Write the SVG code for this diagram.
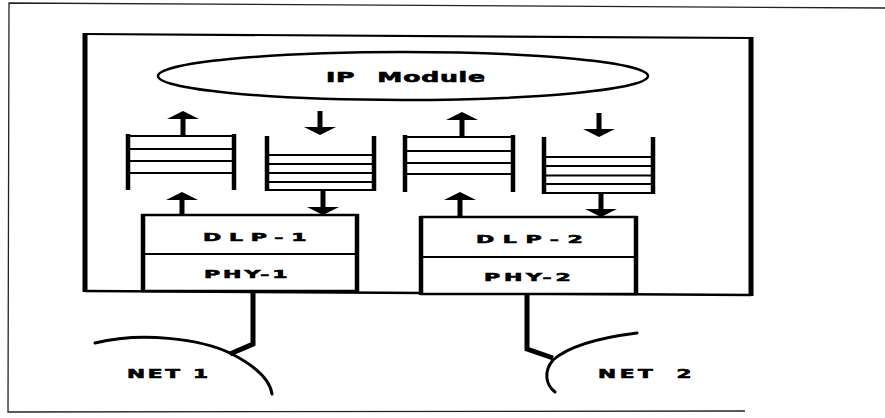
<svg xmlns="http://www.w3.org/2000/svg" width="885" height="418" viewBox="0 0 885 418">
<defs>
<style>
.frame{fill:none;stroke:#222;stroke-width:1.3}
.thin{stroke:#000;stroke-width:2;fill:none}
.post{stroke:#000;stroke-width:4.5;fill:none}
.box{fill:#fff;stroke:#000;stroke-width:2.5}
.side{stroke:#000;stroke-width:4.5}
.conn{stroke:#000;stroke-width:5;fill:none}
.cable{stroke:#000;stroke-width:5;fill:none;stroke-linejoin:miter}
.net{stroke:#000;stroke-width:3;fill:none;stroke-linecap:round}
.lbl{font-family:"DejaVu Sans","Liberation Sans",sans-serif;font-weight:bold;fill:#000;stroke:#000;stroke-width:0.6}
</style>
<marker id="ah" viewBox="0 0 8 32" refX="0" refY="16" markerWidth="8" markerHeight="32" markerUnits="userSpaceOnUse" orient="auto">
<path d="M0,0 L8,16 L0,32 Z" fill="#000"/>
</marker>
</defs>
<rect width="885" height="418" fill="#fff"/>
<g id="outer-frame">
<polyline class="frame" points="885,8 9,3 8,412 745,411"/>
</g>
<g id="host">
<line x1="85" y1="34" x2="751" y2="38" stroke="#000" stroke-width="2.2"/>
<line x1="85" y1="291" x2="751" y2="295" stroke="#000" stroke-width="2.5"/>
<line x1="85" y1="33" x2="85" y2="292" stroke="#000" stroke-width="5"/>
<line x1="751" y1="37" x2="751" y2="296" stroke="#000" stroke-width="5"/>
</g>
<g id="ip-module">
<ellipse cx="403" cy="76" rx="245" ry="24" fill="#fff" stroke="#000" stroke-width="2.5"/>
<text class="lbl" transform="translate(326,82) scale(1.8,1)" font-size="14" letter-spacing="0.4" word-spacing="7">IP Module</text>
</g>
<g id="queue-1">
<line class="post" x1="128" y1="134" x2="128" y2="190"/>
<line class="post" x1="234" y1="134" x2="234" y2="190"/>
<line class="thin" x1="128" y1="136" x2="234" y2="136" stroke-width="2.5"/>
<line class="thin" x1="128" y1="149" x2="234" y2="149"/>
<line class="thin" x1="128" y1="161" x2="234" y2="161"/>
<line class="thin" x1="128" y1="173" x2="234" y2="173"/>
</g>
<g id="queue-2">
<line class="post" x1="267" y1="136" x2="267" y2="191"/>
<line class="post" x1="374" y1="136" x2="374" y2="191"/>
<line class="thin" x1="267" y1="155" x2="374" y2="155"/>
<line class="thin" x1="267" y1="164" x2="374" y2="164"/>
<line class="thin" x1="267" y1="173" x2="374" y2="173"/>
<line class="thin" x1="267" y1="182" x2="374" y2="182"/>
<line class="thin" x1="267" y1="190" x2="374" y2="190" stroke-width="2.5"/>
</g>
<g id="queue-3">
<line class="post" x1="405" y1="135" x2="405" y2="192"/>
<line class="post" x1="513" y1="135" x2="513" y2="192"/>
<line class="thin" x1="405" y1="137" x2="513" y2="137" stroke-width="2.5"/>
<line class="thin" x1="405" y1="151" x2="513" y2="151"/>
<line class="thin" x1="405" y1="163" x2="513" y2="163"/>
<line class="thin" x1="405" y1="174" x2="513" y2="174"/>
</g>
<g id="queue-4">
<line class="post" x1="544" y1="137" x2="544" y2="194"/>
<line class="post" x1="653" y1="137" x2="653" y2="194"/>
<line class="thin" x1="544" y1="157" x2="653" y2="157"/>
<line class="thin" x1="544" y1="166" x2="653" y2="166"/>
<line class="thin" x1="544" y1="175.5" x2="653" y2="175.5"/>
<line class="thin" x1="544" y1="184" x2="653" y2="184"/>
<line class="thin" x1="544" y1="193" x2="653" y2="193" stroke-width="2.5"/>
</g>
<g id="dlp-1">
<rect class="box" x="143" y="215" width="214" height="76"/>
<line class="side" x1="143" y1="214" x2="143" y2="292"/>
<line class="side" x1="357" y1="214" x2="357" y2="292"/>
<line x1="143" y1="254" x2="357" y2="254" stroke="#000" stroke-width="1.8"/>
<text class="lbl" transform="translate(203,241) scale(2,1)" font-size="11" letter-spacing="3.9">DLP-1</text>
<text class="lbl" transform="translate(204,278) scale(2,1)" font-size="11" letter-spacing="1.5">PHY-1</text>
</g>
<g id="dlp-2">
<rect class="box" x="421" y="217" width="215" height="77"/>
<line class="side" x1="421" y1="216" x2="421" y2="295"/>
<line class="side" x1="636" y1="216" x2="636" y2="295"/>
<line x1="421" y1="257" x2="636" y2="257" stroke="#000" stroke-width="1.8"/>
<text class="lbl" transform="translate(476,243) scale(2,1)" font-size="11" letter-spacing="4.3">DLP-2</text>
<text class="lbl" transform="translate(484,281) scale(2,1)" font-size="11" letter-spacing="1.9">PHY-2</text>
</g>
<g id="net-1">
<path class="net" d="M95,343 C140,332 200,338 232,354 C255,366 270,380 272,394"/>
<text class="lbl" transform="translate(127,378) scale(1.8,1)" font-size="12" letter-spacing="1.5" word-spacing="0">NET 1</text>
</g>
<g id="net-2">
<path class="net" d="M637,333 C605,337 570,345 553,360 C543,372 546,385 555,392"/>
<text class="lbl" transform="translate(598,378) scale(1.8,1)" font-size="12" letter-spacing="2" word-spacing="5">NET 2</text>
</g>
<g id="connectors">
<line class="conn" x1="183" y1="136" x2="183" y2="119" marker-end="url(#ah)"/>
<line class="conn" x1="182" y1="215" x2="182" y2="200" marker-end="url(#ah)"/>
<line class="conn" x1="320" y1="111" x2="320" y2="127" marker-end="url(#ah)"/>
<line class="conn" x1="323" y1="190" x2="323" y2="207" marker-end="url(#ah)"/>
<line class="conn" x1="462" y1="137" x2="462" y2="120" marker-end="url(#ah)"/>
<line class="conn" x1="460" y1="217" x2="460" y2="200" marker-end="url(#ah)"/>
<line class="conn" x1="599" y1="113" x2="599" y2="129" marker-end="url(#ah)"/>
<line class="conn" x1="601" y1="193" x2="601" y2="209" marker-end="url(#ah)"/>
<path class="cable" d="M253,291 L253,344 L230,354"/>
<path class="cable" d="M527,294 L527,349 L553,358"/>
</g>
</svg>
